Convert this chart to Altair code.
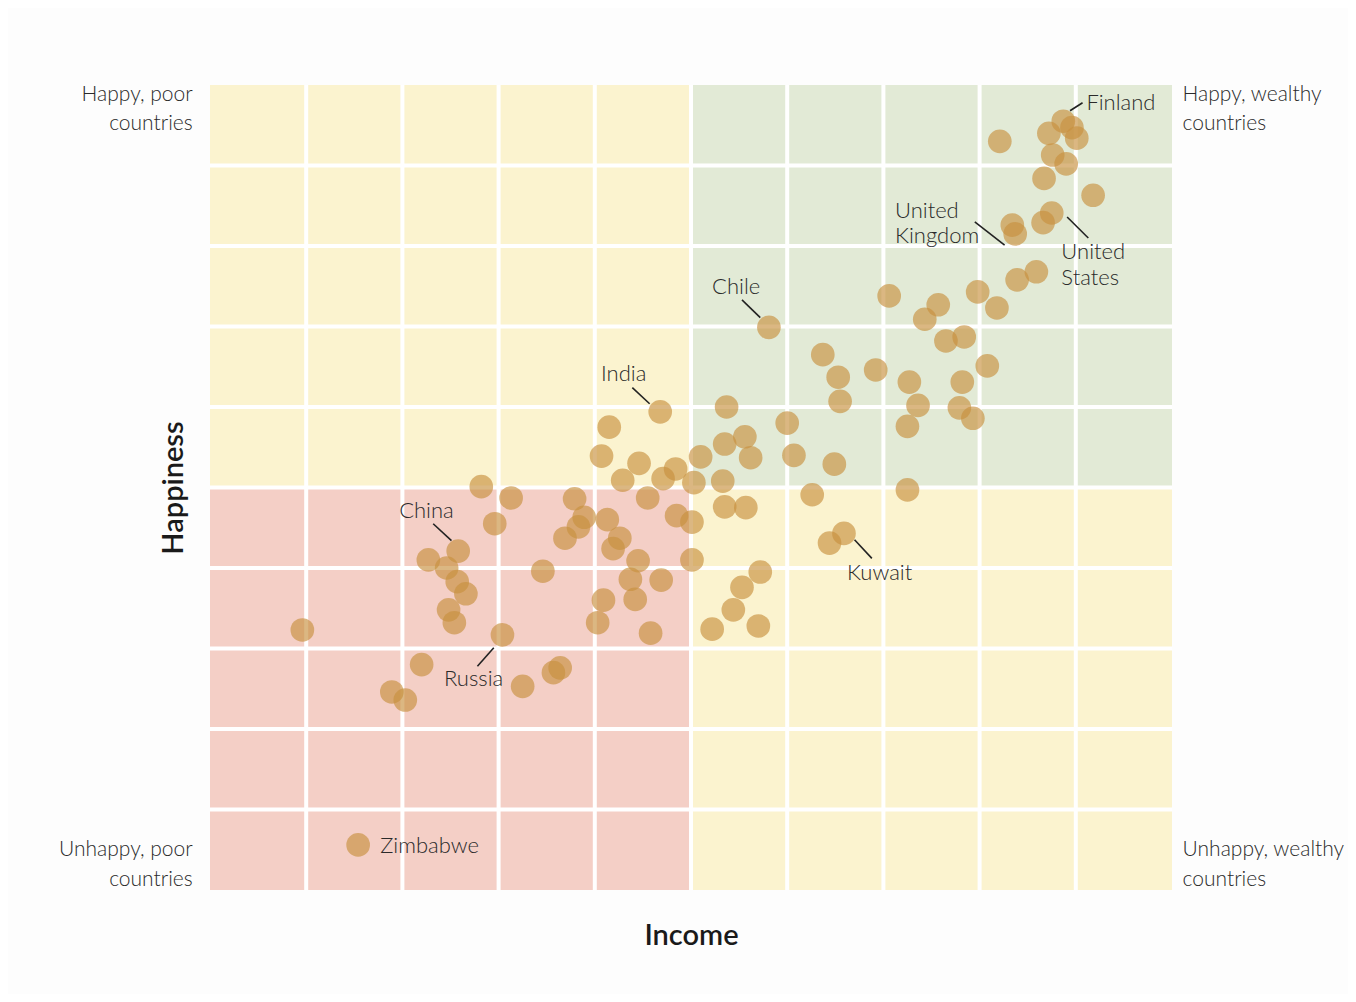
import altair as alt
import pandas as pd

# ---- data ----
income = [8.21, 8.72, 8.87, 8.96, 9.01, 8.76, 8.90, 8.67, 9.18, 8.75,
          8.66, 8.34, 8.37, 8.59, 8.39, 7.98, 8.18, 7.06, 7.57, 7.43,
          7.84, 7.65, 8.08, 6.37, 6.53, 6.92, 7.27, 7.82, 6.55, 7.36,
          7.79, 7.93, 7.25, 5.81, 5.37, 4.68, 4.15, 6.00, 5.56, 5.35,
          5.62, 6.07, 6.49, 4.07, 4.46, 5.10, 4.84, 4.71, 4.29, 5.03,
          5.33, 6.26, 7.25, 2.82, 3.13, 2.96, 3.79, 4.55, 3.89, 3.83,
          4.13, 3.69, 4.26, 4.19, 4.85, 5.01, 5.35, 5.57, 6.59, 6.44,
          2.58, 2.27, 2.46, 2.57, 2.66, 2.48, 2.54, 3.46, 4.45, 4.37,
          4.69, 5.01, 5.72, 5.53, 4.09, 4.42, 4.03, 4.58, 5.44, 5.22,
          5.70, 0.96, 3.04, 2.20, 1.89, 2.03, 3.25, 3.57, 3.64, 1.54]
happiness = [9.30, 9.40, 9.55, 9.47, 9.34, 9.13, 9.02, 8.84, 8.63, 8.41,
             8.29, 8.26, 8.15, 7.68, 7.58, 7.43, 7.23, 7.38, 7.27, 7.09,
             6.87, 6.82, 6.51, 6.65, 6.37, 6.46, 6.31, 6.31, 6.07, 6.02,
             5.99, 5.86, 5.76, 6.99, 6.00, 5.94, 5.75, 5.80, 5.63, 5.54,
             5.37, 5.40, 5.29, 5.39, 5.30, 5.38, 5.23, 5.11, 5.09, 5.06,
             5.08, 4.91, 4.97, 5.01, 4.87, 4.55, 4.86, 4.87, 4.63, 4.51,
             4.60, 4.37, 4.37, 4.24, 4.65, 4.57, 4.76, 4.75, 4.43, 4.31,
             4.21, 4.10, 4.00, 3.83, 3.68, 3.48, 3.32, 3.96, 4.09, 3.86,
             3.85, 4.10, 3.95, 3.76, 3.60, 3.61, 3.32, 3.19, 3.48, 3.24,
             3.28, 3.23, 3.17, 2.80, 2.46, 2.36, 2.53, 2.70, 2.76, 0.56]

# quadrants
quad_x = [0, 5, 0, 5]
quad_x2 = [5, 10, 5, 10]
quad_y = [5, 5, 0, 0]
quad_y2 = [10, 10, 5, 5]
quad_color = ["#fbf3cf", "#e2ead6", "#f4cfc6", "#fbf3cf"]

grid_pos = [1, 2, 3, 4, 5, 6, 7, 8, 9]

# leader lines
lead_x = [8.94, 7.95, 8.91, 5.53, 4.39, 2.32, 2.78, 6.70]
lead_y = [9.68, 8.30, 8.36, 7.33, 6.24, 4.55, 2.78, 4.35]
lead_x2 = [9.07, 8.26, 9.13, 5.72, 4.57, 2.51, 2.95, 6.88]
lead_y2 = [9.78, 8.01, 8.10, 7.11, 6.04, 4.34, 3.01, 4.12]

# country labels, left-aligned
lab_left_text = ["Finland", "United", "Kingdom", "United", "States", "Zimbabwe"]
lab_left_x = [9.11, 7.12, 7.12, 8.85, 8.85, 1.77]
lab_left_y = [9.78, 8.43, 8.12, 7.92, 7.60, 0.55]
# country labels, centred
lab_mid_text = ["Chile", "India", "China", "Russia", "Kuwait"]
lab_mid_x = [5.47, 4.30, 2.25, 2.74, 6.96]
lab_mid_y = [7.49, 6.41, 4.71, 2.62, 3.94]

# corner labels
corner_l_text = ["Happy, poor", "countries", "Unhappy, poor", "countries"]
corner_l_x = [-0.18, -0.18, -0.18, -0.18]
corner_l_y = [9.88, 9.52, 0.50, 0.12]
corner_r_text = ["Happy, wealthy", "countries", "Unhappy, wealthy", "countries"]
corner_r_x = [10.11, 10.11, 10.11, 10.11]
corner_r_y = [9.88, 9.52, 0.50, 0.12]

W, H = 962, 805
FONT = "Lato"
TXT = "#2a2a2a"

xscale = alt.Scale(domain=[0, 10], nice=False, zero=False)
yscale = alt.Scale(domain=[0, 10], nice=False, zero=False)
xaxis = alt.Axis(title="Income", labels=False, ticks=False, domain=False, grid=False,
                 titleFont=FONT, titleFontSize=29, titleFontWeight=600, titleColor="#1a1a1a",
                 titlePadding=31)
yaxis = alt.Axis(title="Happiness", labels=False, ticks=False, domain=False, grid=False,
                 titleFont=FONT, titleFontSize=29, titleFontWeight=600, titleColor="#1a1a1a",
                 titlePadding=22)


def X(field="x"):
    return alt.X(f"{field}:Q", scale=xscale, axis=xaxis)


def Y(field="y"):
    return alt.Y(f"{field}:Q", scale=yscale, axis=yaxis)


quads = alt.Chart(pd.DataFrame({"x": quad_x, "x2": quad_x2, "y": quad_y, "y2": quad_y2,
                                "c": quad_color})).mark_rect().encode(
    x=X(), x2="x2:Q", y=Y(), y2="y2:Q", fill=alt.Fill("c:N", scale=None))

vgrid = alt.Chart(pd.DataFrame({"x": grid_pos})).mark_rule(color="white", strokeWidth=4).encode(x=X())
hgrid = alt.Chart(pd.DataFrame({"y": grid_pos})).mark_rule(color="white", strokeWidth=4).encode(y=Y())

points = alt.Chart(pd.DataFrame({"x": income, "y": happiness})).mark_circle(
    size=560, color="#c8903f", opacity=0.65).encode(x=X(), y=Y())

leads = alt.Chart(pd.DataFrame({"x": lead_x, "y": lead_y, "x2": lead_x2, "y2": lead_y2})).mark_rule(
    color="#222222", strokeWidth=1.6).encode(x=X(), y=Y(), x2="x2:Q", y2="y2:Q")

labs_left = alt.Chart(pd.DataFrame({"x": lab_left_x, "y": lab_left_y, "t": lab_left_text})).mark_text(
    align="left", baseline="middle", font=FONT, fontSize=22, fontWeight=300, color=TXT).encode(
    x=X(), y=Y(), text="t:N")
labs_mid = alt.Chart(pd.DataFrame({"x": lab_mid_x, "y": lab_mid_y, "t": lab_mid_text})).mark_text(
    align="center", baseline="middle", font=FONT, fontSize=22, fontWeight=300, color=TXT).encode(
    x=X(), y=Y(), text="t:N")

corner_l = alt.Chart(pd.DataFrame({"x": corner_l_x, "y": corner_l_y, "t": corner_l_text})).mark_text(
    align="right", baseline="middle", font=FONT, fontSize=21, fontWeight=300, color=TXT).encode(
    x=X(), y=Y(), text="t:N")
corner_r = alt.Chart(pd.DataFrame({"x": corner_r_x, "y": corner_r_y, "t": corner_r_text})).mark_text(
    align="left", baseline="middle", font=FONT, fontSize=21, fontWeight=300, color=TXT).encode(
    x=X(), y=Y(), text="t:N")

chart = alt.layer(quads, vgrid, hgrid, points, leads, labs_left, labs_mid, corner_l, corner_r).properties(
    width=W, height=H,
    autosize=alt.AutoSizeParams(type="none"),
    padding={"left": 202, "top": 77, "right": 176, "bottom": 104},
    background="#fdfdfd",
).configure_view(stroke=None)

chart.save("out.html", embed_options={"renderer": "svg", "actions": False})
